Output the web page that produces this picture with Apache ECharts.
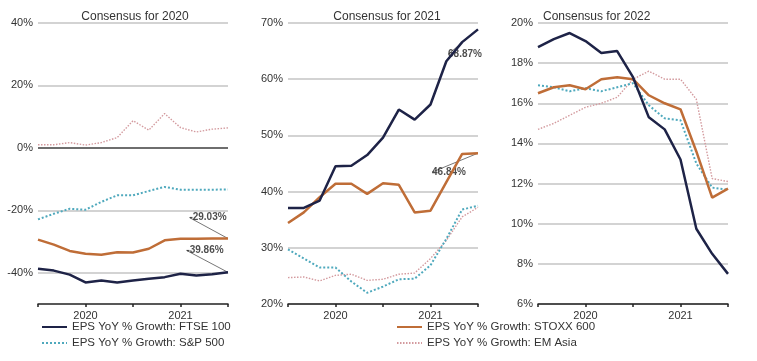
<!DOCTYPE html>
<html><head><meta charset="utf-8">
<script src="https://cdn.jsdelivr.net/npm/echarts@6/dist/echarts.min.js"></script>
<style>html,body{margin:0;padding:0;background:#fff}#c{width:757px;height:361px}</style>
</head><body><div id="c"></div>
<script>
const categories = ['2019-07','2019-09','2019-11','2020-01','2020-03','2020-05','2020-07','2020-09','2020-11','2021-01','2021-03','2021-05','2021-07'];
const panelTitles = ['Consensus for 2020','Consensus for 2021','Consensus for 2022'];
const seriesNames = ['EPS YoY % Growth: FTSE 100','EPS YoY % Growth: S&P 500','EPS YoY % Growth: STOXX 600','EPS YoY % Growth: EM Asia'];

// Consensus for 2020
const ftse2020  = [-38.7,-39.3,-40.6,-43.1,-42.5,-43.1,-42.5,-41.9,-41.4,-40.3,-40.9,-40.5,-39.86];
const sp2020    = [-22.9,-21.1,-19.5,-19.8,-17.3,-15.2,-15.2,-13.8,-12.5,-13.4,-13.4,-13.4,-13.3];
const stoxx2020 = [-29.4,-31.0,-33.0,-33.9,-34.2,-33.4,-33.5,-32.3,-29.6,-29.1,-29.1,-29.0,-29.03];
const em2020    = [1.0,1.0,1.7,0.9,1.7,3.3,8.7,5.7,11.0,6.5,5.1,6.0,6.4];
// Consensus for 2021
const ftse2021  = [37.1,37.1,38.4,44.5,44.6,46.5,49.6,54.6,52.8,55.5,63.2,66.6,68.87];
const sp2021    = [29.7,28.1,26.5,26.5,24.0,22.0,23.1,24.4,24.5,26.9,31.6,36.8,37.5];
const stoxx2021 = [34.4,36.3,39.0,41.4,41.4,39.6,41.5,41.2,36.3,36.6,41.7,46.7,46.84];
const em2021    = [24.7,24.8,24.1,25.1,25.3,24.2,24.4,25.3,25.5,28.1,31.3,35.5,37.2];
// Consensus for 2022
const ftse2022  = [18.8,19.2,19.5,19.1,18.5,18.6,17.3,15.3,14.7,13.2,9.75,8.5,7.5];
const sp2022    = [16.9,16.8,16.6,16.75,16.6,16.8,17.0,15.9,15.25,15.15,13.0,11.8,11.7];
const stoxx2022 = [16.5,16.8,16.9,16.7,17.2,17.3,17.2,16.4,16.0,15.7,13.6,11.3,11.75];
const em2022    = [14.7,15.0,15.4,15.8,16.0,16.3,17.2,17.6,17.2,17.2,16.2,12.25,12.1];

// y-axis ranges per panel
const yMin = [-50, 20, 6];
const yMax = [40, 70, 20];
const yStep = [10, 10, 2];

const colors = {ftse:'#1e2347', sp:'#4fa9bd', stoxx:'#bf6d37', em:'#d39a9e'};
const FONT = 'Liberation Sans, Arial, sans-serif';

const chart = echarts.init(document.getElementById('c'), null, {renderer:'canvas'});

const gridLefts = [38, 288, 538];
const grids = gridLefts.map(l => ({left:l, width:190, top:23, height:281}));

const xAxes = gridLefts.map((_, i) => ({
  type:'category', gridIndex:i, data:categories, boundaryGap:false,
  axisLine:{onZero:false, lineStyle:{color:'#222', width:1.5}},
  axisTick:{show:true, length:3, interval:(idx)=> idx % 3 === 0, lineStyle:{color:'#222', width:1.5}},
  axisLabel:{interval:0, margin:6, color:'#333', fontSize:11, fontFamily:FONT,
    formatter:(v)=> v === '2020-01' ? '2020' : (v === '2021-01' ? '2021' : '')},
  splitLine:{show:false}
}));

const yAxes = gridLefts.map((_, i) => {
  const ax = {
    type:'value', gridIndex:i, min:yMin[i], max:yMax[i], interval:yStep[i],
    axisLine:{show:false}, axisTick:{show:false},
    axisLabel:{margin:5, color:'#333', fontSize:11, fontFamily:FONT, formatter:(v)=> v + '%'},
    splitLine:{show:true, lineStyle:{color:'#d3d3d3', width:2}}
  };
  if (i === 0) {
    ax.axisLabel.formatter = (v)=> (v % 20 === 0 ? v + '%' : '');
    ax.splitLine.lineStyle.color = ['transparent','#d3d3d3','transparent','#d3d3d3','transparent','#6e6e6e','transparent','#d3d3d3','transparent','#d3d3d3'];
  }
  return ax;
});

const titles = [
  {text:panelTitles[0], left:130, textAlign:'center', top:6},
  {text:panelTitles[1], left:382, textAlign:'center', top:6},
  {text:panelTitles[2], left:538, textAlign:'left', top:6}
].map(t => Object.assign(t, {textStyle:{fontSize:12, fontWeight:'normal', color:'#333', fontFamily:FONT}}));

const panelData = [
  {ftse:ftse2020, sp:sp2020, stoxx:stoxx2020, em:em2020},
  {ftse:ftse2021, sp:sp2021, stoxx:stoxx2021, em:em2021},
  {ftse:ftse2022, sp:sp2022, stoxx:stoxx2022, em:em2022}
];

function lineSeries(name, data, i, style) {
  return {name, type:'line', xAxisIndex:i, yAxisIndex:i, data, symbol:'none',
    lineStyle:style, itemStyle:{color:style.color}, emphasis:{disabled:true}, silent:true};
}

const series = [];
panelData.forEach((p, i) => {
  series.push(lineSeries(seriesNames[3], p.em, i, {color:colors.em, width:1.4, type:[1.5,1.5]}));
  series.push(lineSeries(seriesNames[1], p.sp, i, {color:colors.sp, width:2, type:'dotted'}));
  series.push(lineSeries(seriesNames[2], p.stoxx, i, {color:colors.stoxx, width:2.5}));
  series.push(lineSeries(seriesNames[0], p.ftse, i, {color:colors.ftse, width:2.5}));
});

// end-value annotations with leader lines (panels 2020 and 2021)
const annotations = [
  {panel:0, arr:ftse2020, dx:-23, dy:-22},
  {panel:0, arr:stoxx2020, dx:-20, dy:-21},
  {panel:1, arr:ftse2021, dx:-13, dy:25},
  {panel:1, arr:stoxx2021, dx:-29, dy:19}
];
annotations.forEach(a => {
  const last = a.arr.length - 1;
  series.push({
    type:'scatter', xAxisIndex:a.panel, yAxisIndex:a.panel, symbolSize:0, silent:true,
    data:[[categories[last], a.arr[last]]],
    label:{show:true, position:'inside', color:'#222', fontSize:10, fontWeight:'bold', fontFamily:FONT,
      formatter:(p)=> p.value[1].toFixed(2) + '%'},
    labelLine:{show:true, lineStyle:{color:'#777', width:1}},
    labelLayout:{dx:a.dx, dy:a.dy}
  });
});

const legendCommon = {orient:'vertical', top:321, padding:0, itemWidth:25, itemHeight:10, itemGap:4,
  itemStyle:{opacity:0}, textStyle:{fontSize:11.5, color:'#333', fontFamily:FONT}, selectedMode:false};

chart.setOption({
  animation:false,
  backgroundColor:'#fff',
  title:titles,
  grid:grids,
  xAxis:xAxes,
  yAxis:yAxes,
  legend:[
    Object.assign({}, legendCommon, {left:41, data:[seriesNames[0], seriesNames[1]]}),
    Object.assign({}, legendCommon, {left:396, data:[seriesNames[2], seriesNames[3]]})
  ],
  series
});
</script></body></html>
